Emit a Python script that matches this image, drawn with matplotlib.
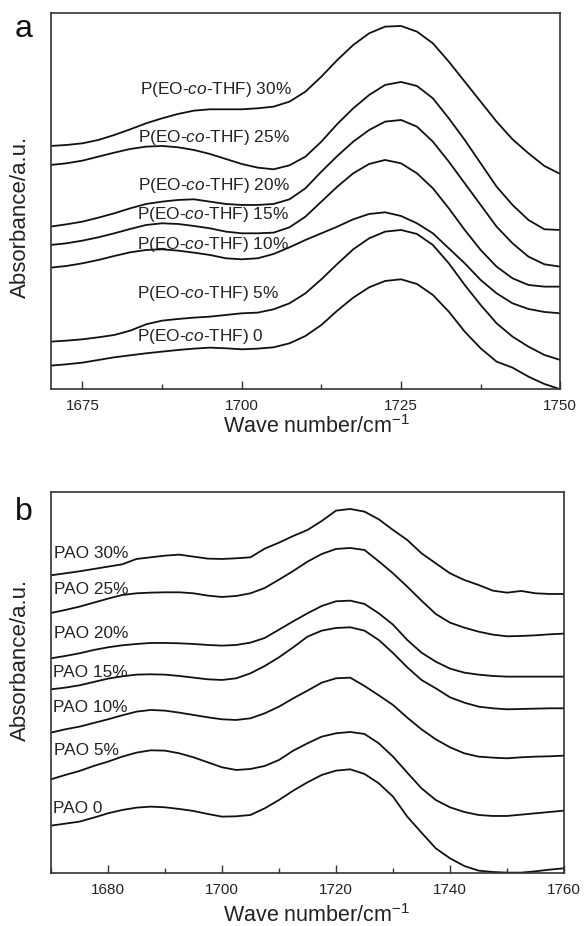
import matplotlib
matplotlib.use("Agg")
import matplotlib.pyplot as plt
from matplotlib.ticker import MultipleLocator, FixedLocator

plt.rcParams['font.family'] = ['Liberation Sans', 'DejaVu Sans']
plt.rcParams['mathtext.fontset'] = 'custom'
plt.rcParams['mathtext.rm'] = 'Liberation Sans'
plt.rcParams['mathtext.it'] = 'Liberation Sans:italic'

# ---------------- Panel a data (P(EO-co-THF)), arbitrary absorbance units ----------------
wn_a = [1670 + 2.5 * i for i in range(33)]
thf_0 = [71, 75, 80, 88, 96, 102, 108, 113, 118, 122, 125, 123, 120, 122, 126, 138, 160,
         193, 236, 275, 306, 325, 330, 316, 283, 233, 173, 123, 83, 65, 38, 16, 0]
thf_5 = [143, 146, 150, 156, 163, 176, 195, 206, 211, 215, 218, 223, 228, 230, 240, 258, 288,
         330, 376, 420, 453, 473, 478, 466, 433, 378, 313, 253, 198, 158, 128, 103, 88]
thf_10 = [365, 370, 378, 388, 400, 411, 418, 420, 416, 410, 403, 393, 390, 393, 406, 426, 448,
          468, 488, 510, 526, 531, 520, 498, 468, 423, 378, 328, 288, 258, 241, 232, 228]
thf_15 = [433, 438, 446, 456, 468, 481, 493, 498, 496, 490, 483, 473, 468, 468, 470, 486, 518,
          563, 608, 648, 676, 688, 678, 648, 603, 543, 478, 418, 368, 333, 313, 308, 308]
thf_20 = [488, 495, 503, 515, 528, 543, 556, 563, 568, 570, 563, 556, 553, 553, 556, 570, 603,
          653, 700, 743, 778, 803, 808, 788, 743, 683, 618, 553, 488, 438, 398, 375, 368]
thf_25 = [673, 678, 686, 698, 710, 721, 728, 730, 726, 718, 706, 691, 676, 665, 660, 672, 698,
          743, 796, 843, 883, 913, 922, 910, 873, 813, 748, 678, 608, 553, 508, 480, 478]
thf_30 = [730, 733, 738, 748, 763, 780, 798, 813, 826, 836, 840, 840, 840, 843, 848, 863, 893,
          938, 988, 1033, 1068, 1088, 1090, 1073, 1038, 983, 923, 863, 803, 750, 708, 670, 646]
series_a = [thf_0, thf_5, thf_10, thf_15, thf_20, thf_25, thf_30]
labels_a = ['P(EO-$\\mathit{co}$-THF) 0', 'P(EO-$\\mathit{co}$-THF) 5%',
            'P(EO-$\\mathit{co}$-THF) 10%', 'P(EO-$\\mathit{co}$-THF) 15%',
            'P(EO-$\\mathit{co}$-THF) 20%', 'P(EO-$\\mathit{co}$-THF) 25%',
            'P(EO-$\\mathit{co}$-THF) 30%']
label_pos_a = [(1683.5, 158), (1683.5, 286), (1683.5, 435), (1683.6, 523),
               (1683.7, 611), (1683.7, 756), (1684.0, 898)]
ticks_a = [1675, 1700, 1725, 1750]

# ---------------- Panel b data (PAO) ----------------
wn_b = [1670 + 2.5 * i for i in range(37)]
pao_0 = [143, 149, 155, 167, 180, 190, 197, 200, 198, 193, 187, 178, 170, 171, 175, 195, 220,
         248, 273, 295, 308, 312, 298, 270, 230, 170, 122, 75, 45, 22, 8, 4, 2, 2, 6, 11, 15]
pao_5 = [282, 295, 307, 322, 335, 350, 362, 369, 368, 360, 348, 333, 318, 310, 313, 322, 340,
         368, 390, 410, 420, 424, 418, 390, 350, 302, 255, 220, 198, 184, 175, 172, 172, 176,
         180, 184, 188]
pao_10 = [422, 432, 440, 451, 462, 474, 485, 490, 488, 482, 475, 468, 462, 460, 465, 480, 500,
          525, 548, 572, 585, 587, 562, 534, 505, 467, 432, 402, 378, 360, 350, 347, 345, 348,
          350, 351, 353]
pao_15 = [552, 557, 564, 574, 584, 591, 596, 597, 596, 592, 587, 582, 580, 585, 600, 622, 648,
          678, 710, 728, 736, 738, 728, 700, 661, 618, 580, 555, 528, 512, 500, 495, 492, 493,
          494, 495, 495]
pao_20 = [645, 652, 660, 670, 678, 684, 688, 691, 691, 690, 688, 685, 683, 685, 692, 706, 731,
          756, 780, 802, 816, 818, 808, 780, 746, 700, 662, 635, 614, 602, 596, 592, 590, 590,
          590, 590, 590]
pao_25 = [781, 790, 800, 812, 824, 835, 840, 842, 843, 843, 840, 833, 829, 832, 840, 856, 881,
          907, 935, 958, 973, 976, 970, 936, 900, 860, 818, 778, 752, 737, 725, 716, 711, 712,
          714, 717, 719]
pao_30 = [894, 900, 906, 913, 920, 927, 943, 948, 953, 956, 950, 944, 943, 945, 948, 974, 992,
          1012, 1030, 1057, 1088, 1093, 1085, 1062, 1030, 1000, 960, 930, 900, 880, 865, 848,
          842, 847, 840, 838, 838]
series_b = [pao_0, pao_5, pao_10, pao_15, pao_20, pao_25, pao_30]
labels_b = ['PAO 0', 'PAO 5%', 'PAO 10%', 'PAO 15%', 'PAO 20%', 'PAO 25%', 'PAO 30%']
label_pos_b = [(1670.4, 195), (1670.5, 368), (1670.3, 498), (1670.4, 602),
               (1670.5, 720), (1670.5, 850), (1670.5, 960)]
ticks_b = [1680, 1700, 1720, 1740, 1760]

W, H = 587, 926
fig = plt.figure(figsize=(W / 100, H / 100), dpi=100)


def frac_box(l, r, t, b):
    return [l / W, 1 - b / H, (r - l) / W, (b - t) / H]


ax_a = fig.add_axes(frac_box(50.6, 560.3, 13.3, 389.3))
ax_b = fig.add_axes(frac_box(51.0, 564.0, 492.3, 873.3))

line_kw = dict(color='#111111', lw=1.3, solid_joinstyle='round', solid_capstyle='round')
text_color = '#222222'

for ax, wn, series, labels, lpos, ticks, xlim, ylim, minor, pad in [
        (ax_a, wn_a, series_a, labels_a, label_pos_a, ticks_a, (1670, 1750), (0, 1128), 12.5, 7),
        (ax_b, wn_b, series_b, labels_b, label_pos_b, ticks_b, (1670, 1760), (0, 1143), 10, 7)]:
    for s in series:
        ax.plot(wn, s, **line_kw)
    for lab, (x, y) in zip(labels, lpos):
        ax.text(x, y, lab, fontsize=12.4, color=text_color, ha='left', va='center')
    ax.set_xlim(*xlim)
    ax.set_ylim(*ylim)
    ax.xaxis.set_major_locator(FixedLocator(ticks))
    ax.xaxis.set_minor_locator(MultipleLocator(minor))
    ax.tick_params(axis='x', which='major', direction='in', length=6, width=1,
                   labelsize=11, pad=pad, colors='#333333', labelcolor=text_color)
    ax.tick_params(axis='x', which='minor', direction='in', length=3.5, width=1,
                   colors='#333333')
    ax.set_yticks([])
    for sp in ax.spines.values():
        sp.set_linewidth(1.2)
        sp.set_color('#333333')

# axis labels
fig.text(20.6 / W, 1 - 217 / H, 'Absorbance/a.u.', rotation=90, fontsize=16,
         ha='center', va='center', color=text_color)
fig.text(20.6 / W, 1 - 660 / H, 'Absorbance/a.u.', rotation=90, fontsize=16,
         ha='center', va='center', color=text_color)
fig.text(316.5 / W, 1 - 433 / H, 'Wave number/cm$^{-1}$', fontsize=15.5,
         ha='center', va='baseline', color=text_color)
fig.text(316.5 / W, 1 - 921.5 / H, 'Wave number/cm$^{-1}$', fontsize=15.5,
         ha='center', va='baseline', color=text_color)

# panel letters
fig.text(15 / W, 1 - 37 / H, 'a', fontsize=23, ha='left', va='baseline', color='#111111')
fig.text(15 / W, 1 - 520 / H, 'b', fontsize=23, ha='left', va='baseline', color='#111111')

fig.savefig('out.png', dpi=100)
